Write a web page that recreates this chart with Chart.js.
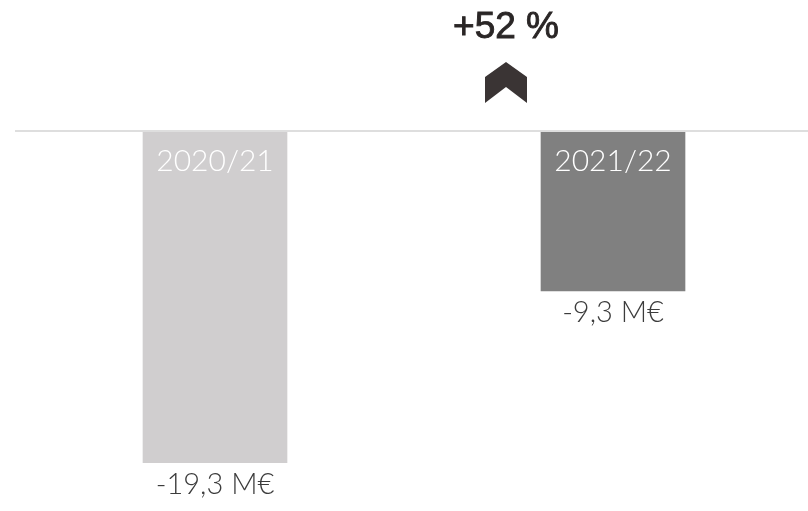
<!DOCTYPE html>
<html>
<head>
<meta charset="utf-8">
<script src="https://cdn.jsdelivr.net/npm/chart.js@4"></script>
<style>
  html, body { margin: 0; padding: 0; background: #fff; overflow: hidden; }
  #wrap { position: relative; width: 812px; height: 511px; }
</style>
</head>
<body>
<div id="wrap"><canvas id="myChart"></canvas></div>
<script>
const categories = ['2020/21', '2021/22'];
const values = [-19.3, -9.3];
const barColors = ['#d0cecf', '#808080'];
const changeLabel = '+52 %';

function formatValue(v) {
    return v.toFixed(1).replace('.', ',') + ' M€';
}

// labels, baseline, arrow
const labelsPlugin = {
    id: 'labels',
    afterDatasetsDraw(chart) {
        const ctx = chart.ctx;
        const area = chart.chartArea;
        const y0 = chart.scales.y.getPixelForValue(0);
        ctx.save();
        ctx.strokeStyle = '#dedede';
        ctx.lineWidth = 2;
        ctx.beginPath();
        ctx.moveTo(area.left - 1, y0);
        ctx.lineTo(area.right, y0);
        ctx.stroke();

        const meta = chart.getDatasetMeta(0);
        ctx.textAlign = 'center';
        ctx.textBaseline = 'middle';
        meta.data.forEach((bar, i) => {
            ctx.font = '300 30px Lato';
            ctx.fillStyle = '#ffffff';
            ctx.fillText(categories[i], bar.x, bar.base + 30);
            ctx.fillStyle = '#3c3c3c';
            ctx.font = '300 29px Lato';
            ctx.fillText(formatValue(values[i]), bar.x, bar.y + 22);
        });

        ctx.fillStyle = '#2a2626';
        ctx.strokeStyle = '#2a2626';
        ctx.lineWidth = 0.9;
        ctx.font = '37px "Liberation Sans", Arial';
        ctx.fillText(changeLabel, 506, 28);
        ctx.strokeText(changeLabel, 506, 28);

        ctx.fillStyle = '#3a3434';
        ctx.beginPath();
        ctx.moveTo(485, 77);
        ctx.lineTo(506, 62);
        ctx.lineTo(527, 77);
        ctx.lineTo(527, 103);
        ctx.lineTo(506, 87);
        ctx.lineTo(485, 103);
        ctx.closePath();
        ctx.fill();
        ctx.restore();
    }
};

const config = {
    type: 'bar',
    data: {
        labels: categories,
        datasets: [{
            data: values,
            backgroundColor: barColors,
            borderWidth: 0,
            barThickness: 144,
        }]
    },
    options: {
        responsive: true,
        maintainAspectRatio: false,
        animation: false,
        layout: {
            padding: { top: 131, bottom: 48, left: 16, right: 0 }
        },
        scales: {
            x: { display: false },
            y: { display: false, min: -19.3, max: 0 }
        },
        plugins: {
            legend: { display: false },
            tooltip: { enabled: false }
        }
    },
    plugins: [labelsPlugin]
};

new Chart(document.getElementById('myChart'), config);
</script>
</body>
</html>
